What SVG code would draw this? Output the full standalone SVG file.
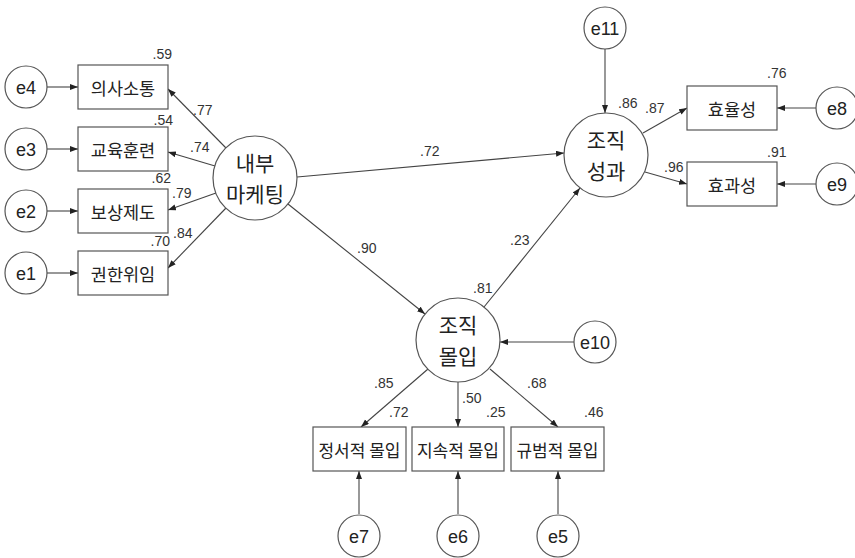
<svg xmlns="http://www.w3.org/2000/svg" width="855" height="558" viewBox="0 0 855 558">
<defs>
<marker id="ah" markerUnits="userSpaceOnUse" markerWidth="9" markerHeight="7" refX="8" refY="3" orient="auto">
<path d="M0,0 L8,3 L0,6 z" fill="#222"/>
</marker>
<style>
.box{fill:#fff;stroke:#555;stroke-width:1.2}
.circ{fill:#fff;stroke:#555;stroke-width:1.2}
.lbl{font-family:"Noto Sans CJK KR","Noto Sans",sans-serif;font-size:17.5px;fill:#222;text-anchor:middle}
.sm{font-size:17px}
.big{font-family:"Noto Sans CJK KR","Noto Sans",sans-serif;font-size:21px;fill:#222;text-anchor:middle}
.err{font-family:"Liberation Sans",Arial,sans-serif;font-size:18px;fill:#222;text-anchor:middle}
.num{font-family:"Liberation Sans",Arial,sans-serif;font-size:14px;fill:#333}
.end{text-anchor:end}
.con line{stroke:#444;stroke-width:1.1;marker-end:url(#ah)}
</style>
</defs>
<rect width="855" height="558" fill="#fff"/>
<g id="connectors" class="con">
<line x1="47" y1="87" x2="78" y2="87"/>
<line x1="47" y1="149" x2="78" y2="149"/>
<line x1="47" y1="211" x2="78" y2="211"/>
<line x1="47" y1="273" x2="78" y2="273"/>
<line x1="226" y1="148" x2="168" y2="89"/>
<line x1="215" y1="166" x2="168" y2="152"/>
<line x1="216" y1="193" x2="168" y2="210"/>
<line x1="226" y1="208" x2="168" y2="268"/>
<line x1="297" y1="177" x2="564" y2="153"/>
<line x1="288" y1="204" x2="425" y2="314"/>
<line x1="484" y1="307" x2="580" y2="188"/>
<line x1="605" y1="49" x2="605" y2="113"/>
<line x1="643" y1="133" x2="687" y2="108"/>
<line x1="645" y1="172" x2="687" y2="184"/>
<line x1="816" y1="108" x2="777" y2="108"/>
<line x1="816" y1="184" x2="777" y2="184"/>
<line x1="574" y1="342" x2="500" y2="342"/>
<line x1="428" y1="369" x2="361" y2="427"/>
<line x1="458" y1="382" x2="458" y2="427"/>
<line x1="490" y1="369" x2="558" y2="427"/>
<line x1="359" y1="514" x2="359" y2="471"/>
<line x1="458" y1="514" x2="458" y2="471"/>
<line x1="558" y1="514" x2="558" y2="471"/>
</g>
<g id="e4"><circle class="circ" cx="26" cy="87" r="21"/><text class="err" x="26" y="94">e4</text></g>
<g id="e3"><circle class="circ" cx="26" cy="149" r="21"/><text class="err" x="26" y="156">e3</text></g>
<g id="e2"><circle class="circ" cx="26" cy="211" r="21"/><text class="err" x="26" y="218">e2</text></g>
<g id="e1"><circle class="circ" cx="26" cy="273" r="21"/><text class="err" x="26" y="280">e1</text></g>
<g id="v1"><rect class="box" x="78" y="65" width="90" height="44"/><text class="lbl" x="123" y="95">의사소통</text><text class="num end" x="172" y="59">.59</text></g>
<g id="v2"><rect class="box" x="78" y="127" width="90" height="44"/><text class="lbl" x="123" y="157">교육훈련</text><text class="num end" x="173" y="125">.54</text></g>
<g id="v3"><rect class="box" x="78" y="189" width="90" height="44"/><text class="lbl" x="123" y="219">보상제도</text><text class="num end" x="171" y="183">.62</text></g>
<g id="v4"><rect class="box" x="78" y="251" width="90" height="44"/><text class="lbl" x="123" y="281">권한위임</text><text class="num end" x="170" y="246">.70</text></g>
<g id="im"><circle class="circ" cx="255" cy="178" r="42"/><text class="big" x="255" y="171">내부</text><text class="big" x="255" y="202">마케팅</text></g>
<g id="op"><circle class="circ" cx="606" cy="155" r="42"/><text class="big" x="606" y="148">조직</text><text class="big" x="606" y="179">성과</text><text class="num" x="618" y="108">.86</text></g>
<g id="oc"><circle class="circ" cx="458" cy="340" r="42"/><text class="big" x="458" y="333">조직</text><text class="big" x="458" y="364">몰입</text><text class="num" x="473" y="293">.81</text></g>
<g id="e11"><circle class="circ" cx="605" cy="28" r="21"/><text class="err" x="605" y="35">e11</text></g>
<g id="v5"><rect class="box" x="687" y="86" width="90" height="44"/><text class="lbl" x="732" y="116">효율성</text><text class="num" x="767" y="78">.76</text></g>
<g id="v6"><rect class="box" x="687" y="162" width="90" height="44"/><text class="lbl" x="732" y="192">효과성</text><text class="num" x="767" y="157">.91</text></g>
<g id="e8"><circle class="circ" cx="837" cy="108" r="21"/><text class="err" x="837" y="115">e8</text></g>
<g id="e9"><circle class="circ" cx="837" cy="184" r="21"/><text class="err" x="837" y="191">e9</text></g>
<g id="e10"><circle class="circ" cx="595" cy="342" r="21"/><text class="err" x="595" y="349">e10</text></g>
<g id="v7"><rect class="box" x="313" y="427" width="93" height="44"/><text class="lbl sm" x="359.5" y="457">정서적 몰입</text><text class="num" x="389" y="417">.72</text></g>
<g id="v8"><rect class="box" x="412" y="427" width="92" height="44"/><text class="lbl sm" x="458" y="457">지속적 몰입</text><text class="num" x="486" y="417">.25</text></g>
<g id="v9"><rect class="box" x="511" y="427" width="93" height="44"/><text class="lbl sm" x="557.5" y="457">규범적 몰입</text><text class="num" x="584" y="417">.46</text></g>
<g id="e7"><circle class="circ" cx="359" cy="536" r="21"/><text class="err" x="359" y="543">e7</text></g>
<g id="e6"><circle class="circ" cx="458" cy="536" r="21"/><text class="err" x="458" y="543">e6</text></g>
<g id="e5"><circle class="circ" cx="558" cy="536" r="21"/><text class="err" x="558" y="543">e5</text></g>
<g id="labels">
<text class="num" x="193" y="115">.77</text>
<text class="num" x="190" y="152">.74</text>
<text class="num" x="172" y="198">.79</text>
<text class="num" x="173" y="238">.84</text>
<text class="num" x="420" y="156">.72</text>
<text class="num" x="357" y="253">.90</text>
<text class="num" x="510" y="245">.23</text>
<text class="num" x="645" y="113">.87</text>
<text class="num" x="664" y="172">.96</text>
<text class="num" x="374" y="388">.85</text>
<text class="num" x="462" y="403">.50</text>
<text class="num" x="527" y="388">.68</text>
</g>
</svg>
